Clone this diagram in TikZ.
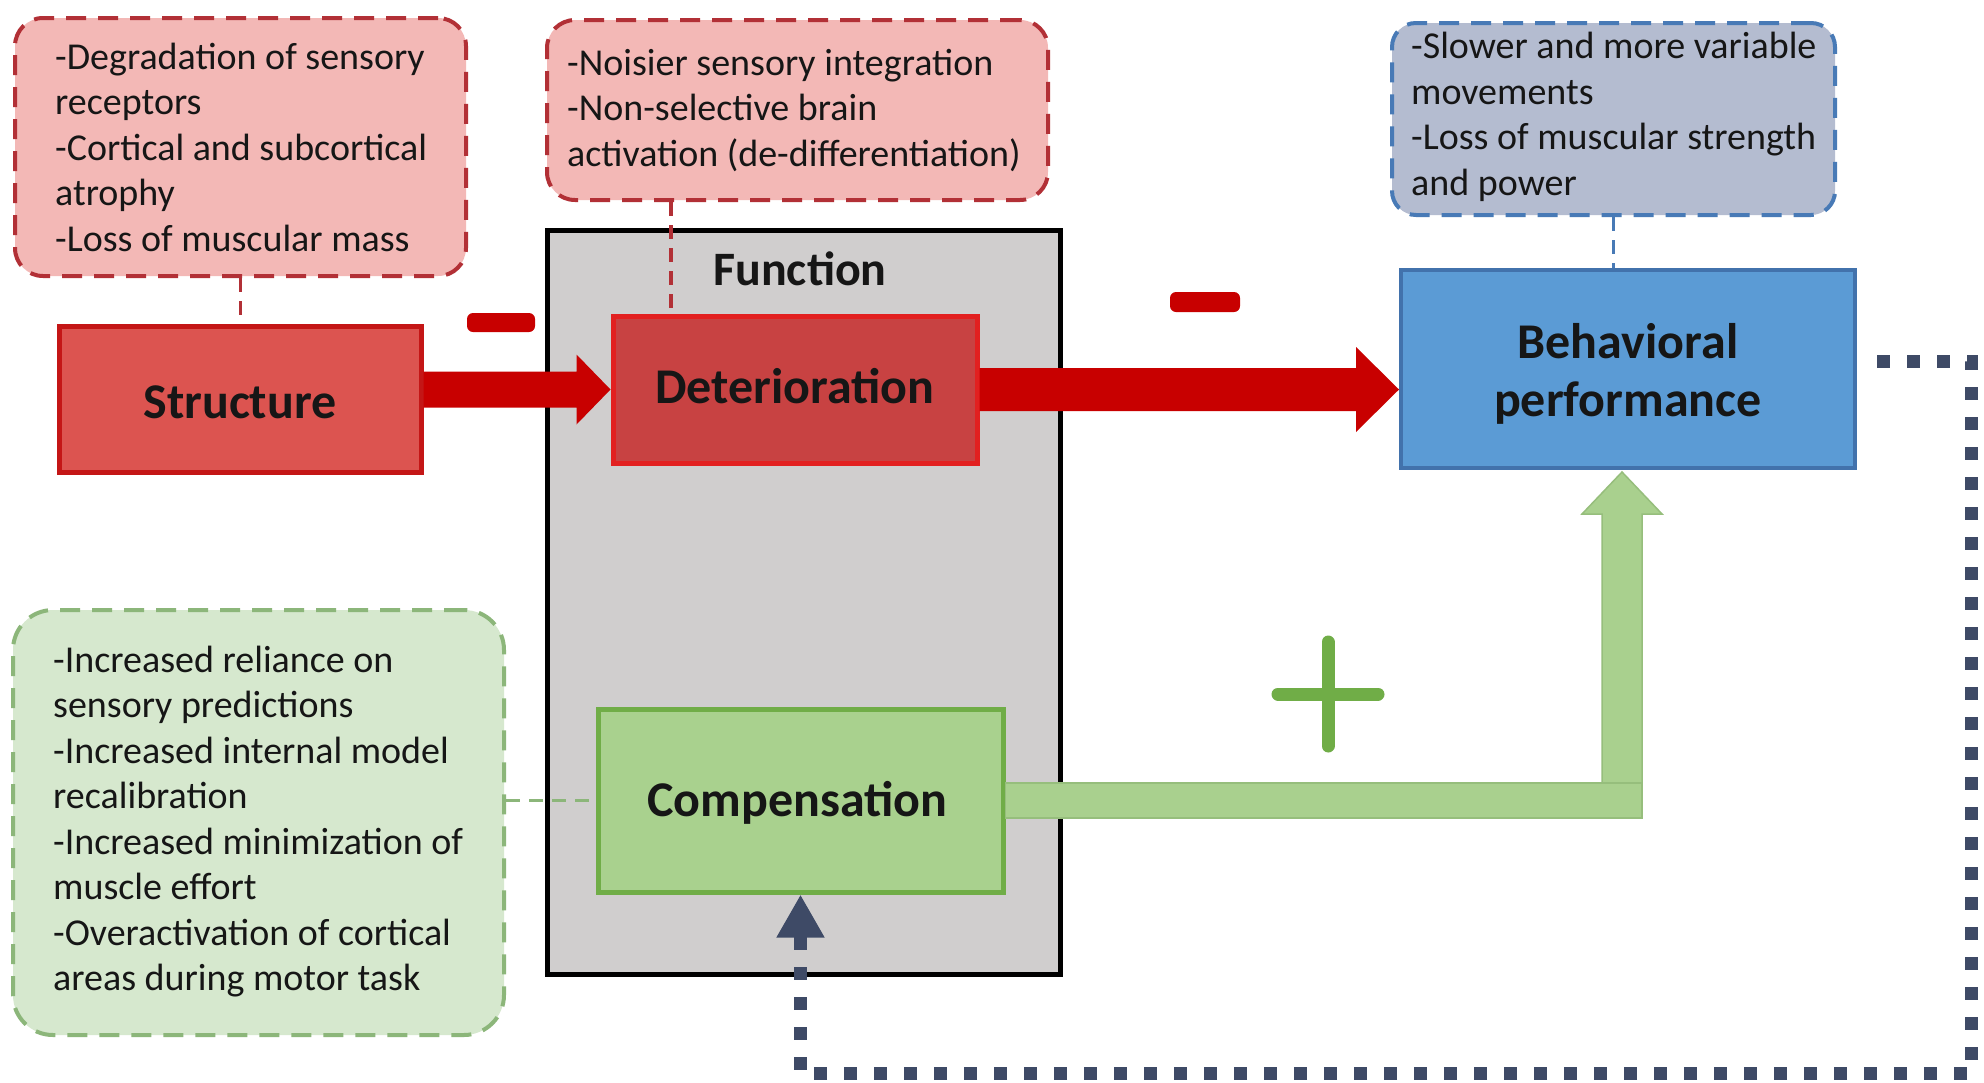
\documentclass[tikz,border=0pt]{standalone}
\usepackage{fontspec}
\setmainfont{Carlito}
\usetikzlibrary{calc,arrows.meta}

% palette
\definecolor{notered}{RGB}{243,184,182}
\definecolor{noteredline}{RGB}{178,48,54}
\definecolor{structfill}{RGB}{220,84,80}
\definecolor{structline}{RGB}{196,22,22}
\definecolor{detfill}{RGB}{200,66,66}
\definecolor{detline}{RGB}{226,32,32}
\definecolor{funcfill}{RGB}{208,206,206}
\definecolor{behfill}{RGB}{91,155,213}
\definecolor{behline}{RGB}{66,114,172}
\definecolor{behnotefill}{RGB}{180,188,208}
\definecolor{behnoteline}{RGB}{72,122,182}
\definecolor{compfill}{RGB}{169,209,142}
\definecolor{compline}{RGB}{112,173,71}
\definecolor{compnotefill}{RGB}{214,232,206}
\definecolor{compnoteline}{RGB}{140,182,122}
\definecolor{arrowred}{RGB}{200,0,0}
\definecolor{greenarrow}{RGB}{169,208,142}
\definecolor{greenarrowline}{RGB}{150,190,124}
\definecolor{plusgreen}{RGB}{112,173,71}
\definecolor{feedback}{RGB}{62,74,102}
\definecolor{txt}{RGB}{22,22,22}

\begin{document}
\begin{tikzpicture}[x=1pt,y=-1pt,
  notebox/.style={rectangle, rounded corners=28pt, line width=4pt,
    dash pattern=on 20pt off 12pt, inner sep=0pt},
  notetext/.style={font=\fontsize{38}{45.5}\selectfont, align=left,
    inner sep=0pt, anchor=west, text=txt},
  mainbox/.style={rectangle, line width=5pt, inner sep=0pt,
    font=\bfseries\fontsize{50}{58}\selectfont, align=center, text=txt},
  link/.style={line width=3.5pt, dash pattern=on 14pt off 9pt},
  minusbar/.style={rectangle, rounded corners=6pt, fill=arrowred,
    inner sep=0pt},
  fb/.style={draw=feedback, line width=13pt, dash pattern=on 13pt off 17pt,
    -{Triangle[width=45pt,length=43pt]}}
]
\useasboundingbox (0,0) rectangle (1984,1082);
\fill[white] (0,0) rectangle (1984,1082);

% ---- annotation boxes ----
\node[notebox, fill=notered, draw=noteredline,
  minimum width=451pt, minimum height=258pt] (structnote) at (240.5,147) {};
\node[notetext] (structtext) at ($(structnote.west)+(42,0)$)
  {-Degradation of sensory\\receptors\\-Cortical and subcortical\\atrophy\\-Loss of muscular mass};

\node[notebox, fill=notered, draw=noteredline,
  minimum width=501pt, minimum height=180pt] (detnote) at (797.5,110) {};
\node[notetext] (dettext) at ($(detnote.west)+(22,0)$)
  {-Noisier sensory integration\\-Non-selective brain\\activation (de-differentiation)};

\node[notebox, fill=behnotefill, draw=behnoteline, rounded corners=24pt,
  minimum width=443pt, minimum height=192pt] (behnote) at (1613.5,119) {};
\node[notetext] (behtext) at ($(behnote.west)+(21,-2)$)
  {-Slower and more variable\\movements\\-Loss of muscular strength\\and power};

\node[notebox, fill=compnotefill, draw=compnoteline, rounded corners=40pt,
  minimum width=491pt, minimum height=425pt] (compnote) at (258.5,822.5) {};
\node[notetext] (comptext) at ($(compnote.west)+(42,-1)$)
  {-Increased reliance on\\sensory predictions\\-Increased internal model\\recalibration\\-Increased minimization of\\muscle effort\\-Overactivation of cortical\\areas during motor task};

% ---- function frame ----
\node[rectangle, fill=funcfill, draw=black, line width=5pt,
  minimum width=513pt, minimum height=744pt] (func) at (803.5,602) {};
\node[font=\bfseries\fontsize{48}{58}\selectfont, text=txt, inner sep=0pt]
  (functitle) at (800,269) {Function};

% ---- main boxes ----
\node[mainbox, fill=structfill, draw=structline,
  minimum width=362pt, minimum height=146pt] (struct) at (240,399) {};
\node[mainbox, draw=none] (structlabel) at ($(struct.center)+(0,3)$) {Structure};
\node[mainbox, fill=detfill, draw=detline,
  minimum width=364pt, minimum height=147pt] (det) at (795,389.5) {};
\node[mainbox, draw=none] (detlabel) at ($(det.center)+(0,-3)$) {Deterioration};
\node[mainbox, fill=compfill, draw=compline,
  minimum width=405pt, minimum height=183pt] (comp) at (800.5,800.5) {};
\node[mainbox, draw=none] (complabel) at ($(comp.center)+(-3,2)$) {Compensation};
\node[mainbox, fill=behfill, draw=behline, line width=4pt,
  minimum width=454pt, minimum height=198pt] (beh) at (1628,369) {};
\node[mainbox, draw=none] (behlabel) at ($(beh.center)+(0,5)$) {Behavioral\\performance};

% ---- dashed links from annotations ----
\draw[link, draw=noteredline] (structnote.south) -- (structnote.south |- struct.north);
\draw[link, draw=noteredline] ($(detnote.south west)+(126,0)$) coordinate (dl) -- (dl |- det.north);
\draw[link, draw=behnoteline] (behnote.south) -- (behnote.south |- beh.north);
\draw[link, draw=compnoteline] (comp.west -| compnote.east) -- (comp.west);

% ---- red arrows (negative effect) ----
\fill[arrowred] let \p1=(struct.east), \p2=(det.west) in
  (\x1,{\y2+18pt}) -- ({\x2-34pt},{\y2+18pt}) -- ({\x2-34pt},{\y2+35pt}) --
  (\x2,\y2) -- ({\x2-34pt},{\y2-35pt}) -- ({\x2-34pt},{\y2-18pt}) --
  (\x1,{\y2-18pt}) -- cycle;
\fill[arrowred] let \p1=(det.east), \p2=(beh.west) in
  (\x1,{\y1+21.5pt}) -- ({\x2-43pt},{\y1+21.5pt}) -- ({\x2-43pt},{\y1+42.5pt}) --
  (\x2,\y1) -- ({\x2-43pt},{\y1-42.5pt}) -- ({\x2-43pt},{\y1-21.5pt}) --
  (\x1,{\y1-21.5pt}) -- cycle;

\node[minusbar, minimum width=68pt, minimum height=19pt] (minus1) at (501,322.5) {};
\node[minusbar, minimum width=70pt, minimum height=20pt] (minus2) at (1205,302) {};

% ---- green arrow (positive effect) ----
\coordinate (gtip) at ($(beh.south)+(-6,2)$);
\filldraw[fill=greenarrow, draw=greenarrowline, line width=1.5pt]
  let \p1=(gtip), \p2=(comp.east) in
  ({\x1-20pt},{\y2+17.5pt}) -- ({\x1-20pt},{\y1-42pt}) -- ({\x1-40pt},{\y1-42pt}) --
  (\x1,\y1) -- ({\x1+40pt},{\y1-42pt}) -- ({\x1+20pt},{\y1-42pt}) --
  ({\x1+20pt},{\y2+17.5pt}) -- cycle;
\filldraw[fill=greenarrow, draw=greenarrowline, line width=1.5pt]
  let \p1=(gtip), \p2=(comp.east) in
  (\x2,{\y2+17.5pt}) rectangle ({\x1+20pt},{\y2-17.5pt});

\coordinate (plusc) at (1328,694);
\draw[plusgreen, line width=13pt, line cap=round]
  ($(plusc)+(-50,0)$) -- ($(plusc)+(50,0)$)
  ($(plusc)+(0,-52)$) -- ($(plusc)+(0,52)$);

% ---- feedback loop ----
\coordinate (fbstart) at ($(beh.east)+(20,-8)$);
\coordinate (fbcorner) at (1971,361);
\coordinate (fbbottom) at (1971,1073);
\draw[fb] (fbstart) -- (fbcorner) -- (fbbottom) -| (comp.south);
\end{tikzpicture}
\end{document}
